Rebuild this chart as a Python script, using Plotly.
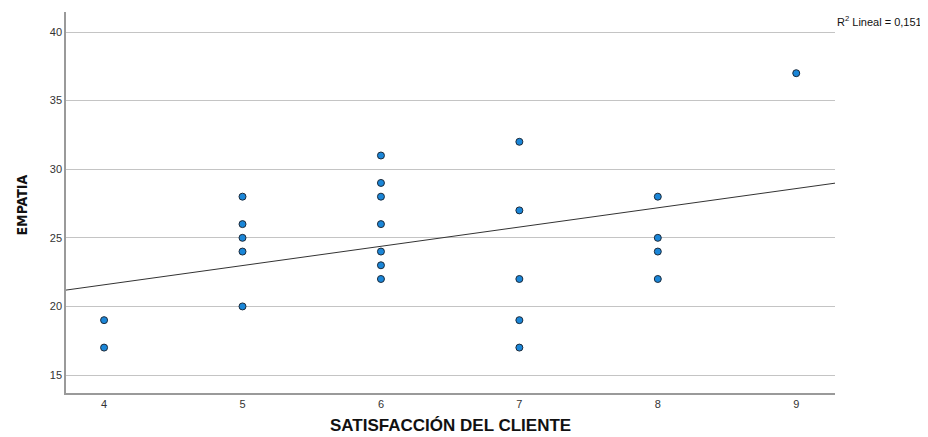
import numpy as np
import plotly.graph_objects as go

satisfaccion = [4, 4,
                5, 5, 5, 5, 5,
                6, 6, 6, 6, 6, 6, 6,
                7, 7, 7, 7, 7,
                8, 8, 8, 8,
                9]
empatia = [19, 17,
           28, 26, 25, 24, 20,
           31, 29, 28, 26, 24, 23, 22,
           32, 27, 22, 19, 17,
           28, 25, 24, 22,
           37]
x_ticks = [4, 5, 6, 7, 8, 9]
y_ticks = [15, 20, 25, 30, 35, 40]
r2_text = "R<sup>2</sup> Lineal = 0,151"

x_range = [3.725, 9.28]
y_range = [13.69, 41.46]

slope, intercept = np.polyfit(satisfaccion, empatia, 1)
fit_x = np.array(x_range)
fit_y = slope * fit_x + intercept

fig = go.Figure()
fig.add_trace(go.Scatter(
    x=fit_x, y=fit_y, mode="lines",
    line=dict(color="#333333", width=1), hoverinfo="skip", showlegend=False))
fig.add_trace(go.Scatter(
    x=satisfaccion, y=empatia, mode="markers",
    marker=dict(size=7, color="#1a86d8", line=dict(color="#1c2a3a", width=1)),
    showlegend=False))

fig.update_layout(
    width=920, height=429,
    margin=dict(l=58, r=93, t=4, b=44),
    paper_bgcolor="white", plot_bgcolor="white",
    font=dict(family="Liberation Sans, Arial, sans-serif", size=11, color="#333333"),
)
fig.update_xaxes(
    range=x_range, tickvals=x_ticks, ticktext=[str(v) for v in x_ticks],
    showgrid=False, zeroline=False, showline=True, linecolor="#9a9a9a", linewidth=1.5,
    ticks="", ticklen=0, tickfont=dict(size=11, color="#333333"),
)
fig.update_yaxes(
    range=y_range, tickvals=y_ticks, ticktext=[str(v) for v in y_ticks],
    showgrid=True, gridcolor="#c4c4c4", gridwidth=1, zeroline=False,
    showline=True, linecolor="#9a9a9a", linewidth=1.5,
    ticks="", ticklen=0, tickfont=dict(size=11, color="#333333"),
)

fig.add_annotation(
    text="<b>SATISFACCIÓN DEL CLIENTE</b>", xref="paper", yref="paper",
    x=0.5, y=0, yshift=-43, xanchor="center", yanchor="bottom", showarrow=False,
    borderpad=0,
    font=dict(family="Liberation Sans, Arial, sans-serif", size=17, color="#111111"),
)
fig.add_annotation(
    text="<b>EMPATIA</b>", xref="paper", yref="paper",
    x=0, xshift=-45, y=0.5, yshift=-3, xanchor="center", yanchor="middle", showarrow=False,
    textangle=-90,
    font=dict(family="Liberation Sans Narrow, DejaVu Sans Condensed, sans-serif", size=14, color="#111111"),
)
fig.add_annotation(
    text=r2_text, xref="paper", yref="paper",
    x=1, xshift=0, y=1, yshift=-9, xanchor="left", yanchor="middle", showarrow=False,
    font=dict(family="Liberation Sans, Arial, sans-serif", size=11, color="#111111"),
)

fig.write_html("out.html")
